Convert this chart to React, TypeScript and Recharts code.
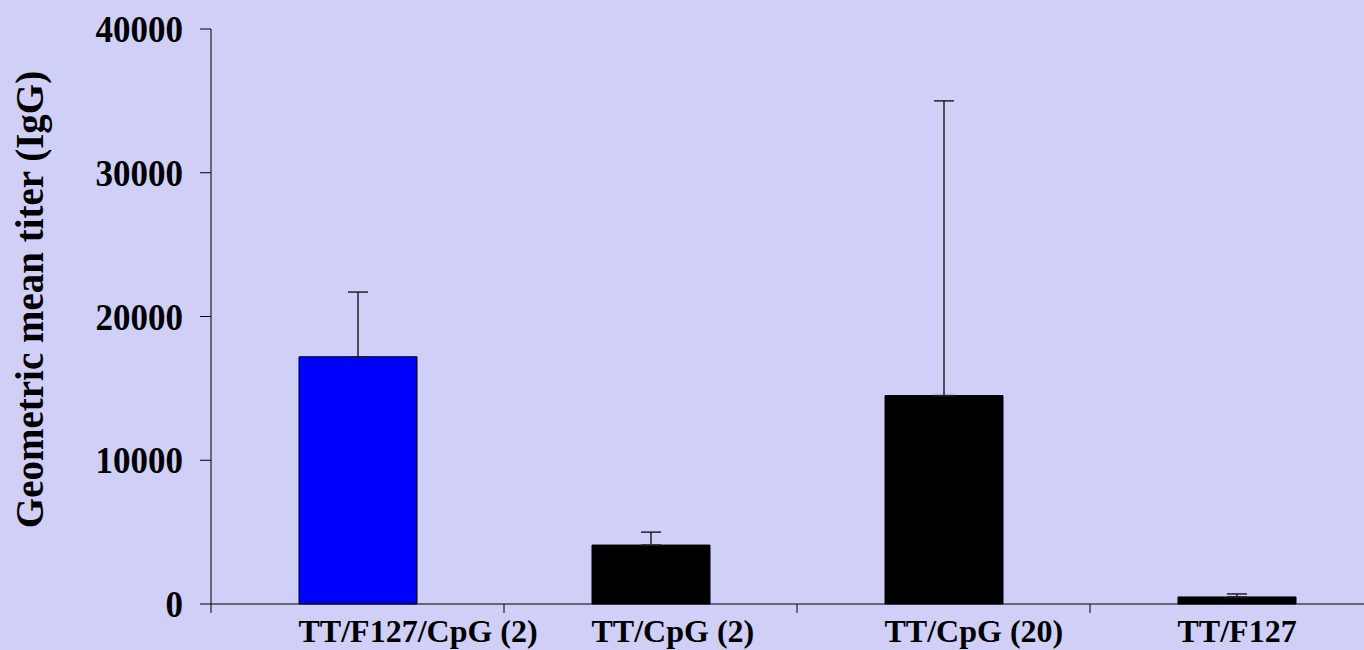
import React from "react";
import { BarChart, Bar, XAxis, YAxis, ErrorBar, Cell, Label } from "recharts";

const categories = ["TT/F127/CpG (2)", "TT/CpG (2)", "TT/CpG (20)", "TT/F127"];
const meanTiter = [17200, 4100, 14500, 490];
const upperTiter = [21700, 5000, 35000, 700];
const barColors = ["#0000FF", "#000000", "#000000", "#000000"];
const yTicks = [0, 10000, 20000, 30000, 40000];
const yLabel = "Geometric mean titer (IgG)";

const data = categories.map((name, i) => ({
  name,
  value: meanTiter[i],
  err: [0, upperTiter[i] - meanTiter[i]],
}));

const CHART_W = 1400;
const CHART_H = 650;
const Y_AXIS_W = 211;
const X_AXIS_H = 46;
const MARGIN = { top: 29, right: 17, bottom: 0, left: 0 };
const BAR_SIZE = 118;
const BAND = (CHART_W - MARGIN.right - MARGIN.left - Y_AXIS_W) / categories.length;
const FONT = '"Liberation Serif", "Times New Roman", Times, serif';
const BG = "#CFCFF7";
const textStyle = { fontFamily: FONT, fontWeight: 700 };

const XTick = (props: any) => {
  const { x, y, payload } = props;
  return (
    <g>
      <line x1={x - BAND / 2} x2={x - BAND / 2} y1={y - 9} y2={y} stroke="#000" strokeWidth={1} />
      <text
        x={x - BAR_SIZE / 2}
        y={y}
        dy={29}
        textAnchor="start"
        style={{ ...textStyle, fontSize: 32 }}
        fill="#000"
      >
        {payload.value}
      </text>
    </g>
  );
};

const YTick = (props: any) => {
  const { x, y, payload } = props;
  return (
    <g transform={`translate(${x}, ${y}) scale(1, 1.1)`}>
      <text x={0} y={0} dy={12} textAnchor="end" style={{ ...textStyle, fontSize: 35 }} fill="#000">
        {payload.value}
      </text>
    </g>
  );
};

const YTitle = (props: any) => {
  const vb = props.viewBox || { x: 0, y: MARGIN.top, width: Y_AXIS_W, height: 575 };
  const cy = vb.y + vb.height / 2 - 17;
  const cx = 43;
  return (
    <text
      x={cx}
      y={cy}
      transform={`rotate(-90, ${cx}, ${cy})`}
      textAnchor="middle"
      style={{ ...textStyle, fontSize: 39 }}
      fill="#000"
    >
      {yLabel}
    </text>
  );
};

export default function App() {
  return (
    <div
      style={{
        position: "fixed",
        left: 0,
        top: 0,
        width: 1364,
        height: 650,
        overflow: "hidden",
        background: BG,
      }}
    >
      <BarChart width={CHART_W} height={CHART_H} data={data} margin={MARGIN}>
        <XAxis
          dataKey="name"
          height={X_AXIS_H}
          tick={<XTick />}
          tickLine={false}
          tickSize={9}
          tickMargin={0}
          axisLine={{ stroke: "#000", strokeWidth: 1 }}
          interval={0}
        />
        <YAxis
          width={Y_AXIS_W}
          domain={[0, 40000]}
          ticks={yTicks}
          interval={0}
          tickSize={11}
          tickMargin={17}
          axisLine={{ stroke: "#000", strokeWidth: 1 }}
          tickLine={{ stroke: "#000", strokeWidth: 1 }}
          tick={<YTick />}
        >
          <Label content={<YTitle />} />
        </YAxis>
        <Bar dataKey="value" barSize={BAR_SIZE} stroke="#000" strokeWidth={1} isAnimationActive={false}>
          {data.map((d, i) => (
            <Cell key={d.name} fill={barColors[i]} />
          ))}
          <ErrorBar dataKey="err" direction="y" width={10} stroke="#222" strokeWidth={1.5} isAnimationActive={false} />
        </Bar>
      </BarChart>
    </div>
  );
}
